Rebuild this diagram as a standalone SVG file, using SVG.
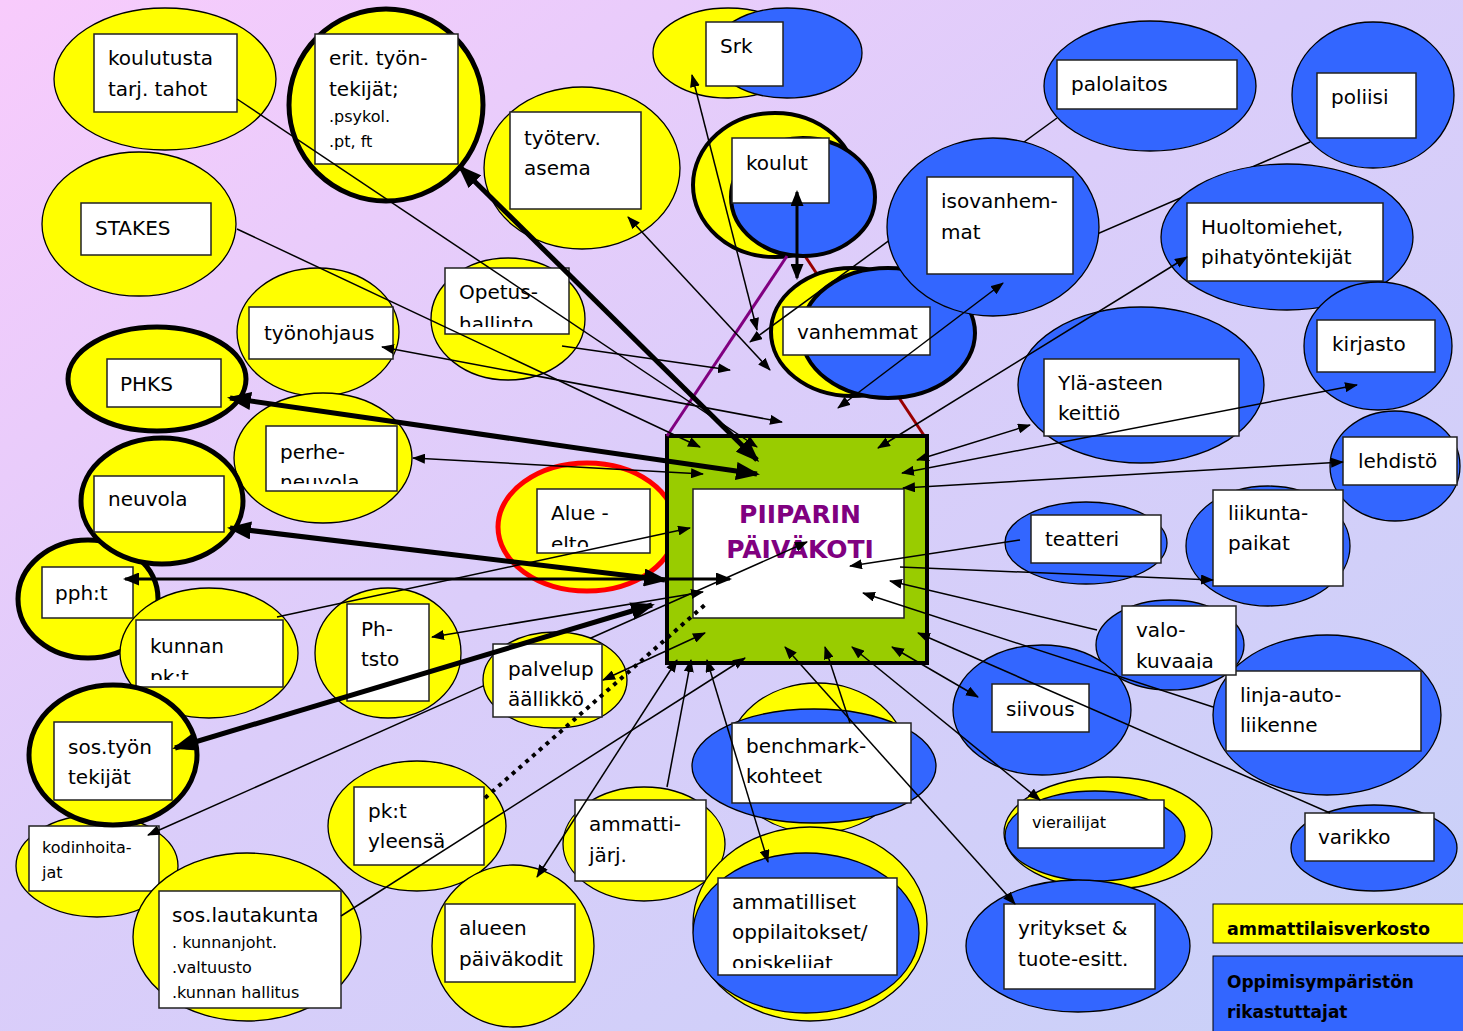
<svg xmlns="http://www.w3.org/2000/svg" width="1463" height="1031" viewBox="0 0 1463 1031">
<style>
.y{fill:#ffff00;stroke:#000;stroke-width:1.3}
.b{fill:#3366ff;stroke:#000;stroke-width:1.3}
.tk{stroke-width:5}
.m4{stroke-width:4}
.bx{fill:#fff;stroke:#222;stroke-width:1.5}
.t{font-family:"DejaVu Sans",Verdana,sans-serif;font-size:20px;fill:#000}
.s{font-size:16px}
.ln{stroke:#000;stroke-width:1.5;fill:none}
.th{stroke-width:5}
.md{stroke-width:3}
.lg{font-family:"DejaVu Sans",Verdana,sans-serif;font-weight:bold;fill:#000}
</style>
<defs>
<linearGradient id="bg" x1="0" y1="0" x2="1" y2="1">
<stop offset="0" stop-color="#f8cbfc"/>
<stop offset="0.45" stop-color="#dbcdfa"/>
<stop offset="1" stop-color="#c8d1f8"/>
</linearGradient>
<marker id="ah" markerUnits="userSpaceOnUse" viewBox="0 0 13 10" markerWidth="13" markerHeight="10" refX="12" refY="5" orient="auto-start-reverse"><path d="M0,0L13,5L0,10z" fill="#000"/></marker>
<marker id="am" markerUnits="userSpaceOnUse" viewBox="0 0 16 13" markerWidth="16" markerHeight="13" refX="14" refY="6.5" orient="auto-start-reverse"><path d="M0,0L16,6.5L0,13z" fill="#000"/></marker>
<marker id="at" markerUnits="userSpaceOnUse" viewBox="0 0 24 18" markerWidth="24" markerHeight="18" refX="21" refY="9" orient="auto-start-reverse"><path d="M0,0L24,9L0,18z" fill="#000"/></marker>
<clipPath id="cOp"><rect x="445" y="268" width="124" height="59"/></clipPath>
<clipPath id="cPe"><rect x="266" y="426" width="131" height="58"/></clipPath>
<clipPath id="cKu"><rect x="136" y="620" width="147" height="60"/></clipPath>
<clipPath id="cAl"><rect x="537" y="489" width="113" height="58"/></clipPath>
<clipPath id="cVa"><rect x="1122" y="606" width="114" height="63"/></clipPath>
<clipPath id="cAm"><rect x="718" y="878" width="179" height="90"/></clipPath>
</defs>
<rect width="1463" height="1031" fill="url(#bg)"/>

<g id="connectors-back">
<line class="ln" x1="1310" y1="142" x2="787" y2="368" marker-end="url(#ah)"/>
<line x1="805" y1="256" x2="927" y2="440" stroke="#990000" stroke-width="3"/>
</g>

<g id="n-koulutusta"><ellipse class="y" cx="165" cy="79" rx="111" ry="71"/><rect class="bx" x="94" y="34" width="143" height="78"/><text class="t" x="108" y="65">koulutusta</text><text class="t" x="108" y="96">tarj. tahot</text></g>
<g id="n-erit"><ellipse class="y tk" cx="386" cy="105" rx="97" ry="96"/><rect class="bx" x="315" y="34" width="143" height="130"/><text class="t" x="329" y="65">erit. työn-</text><text class="t" x="329" y="96">tekijät;</text><text class="t s" x="329" y="122">.psykol.</text><text class="t s" x="329" y="147">.pt, ft</text></g>
<g id="n-stakes"><ellipse class="y" cx="139" cy="224" rx="97" ry="72"/><rect class="bx" x="81" y="203" width="130" height="52"/><text class="t" x="95" y="235">STAKES</text></g>
<g id="n-tyoterv"><ellipse class="y" cx="582" cy="168" rx="98" ry="81"/><rect class="bx" x="510" y="112" width="131" height="97"/><text class="t" x="524" y="145">työterv.</text><text class="t" x="524" y="175">asema</text></g>
<g id="n-srk"><ellipse class="y" cx="728" cy="53" rx="75" ry="45"/><ellipse class="b" cx="787" cy="53" rx="75" ry="45"/><rect class="bx" x="706" y="22" width="77" height="64"/><text class="t" x="720" y="53">Srk</text></g>
<g id="n-koulut"><ellipse class="y m4" cx="775" cy="185" rx="82" ry="72"/><ellipse class="b m4" cx="803" cy="197" rx="72" ry="59"/><rect class="bx" x="732" y="138" width="97" height="65"/><text class="t" x="746" y="170">koulut</text></g>
<g id="n-opetus"><ellipse class="y" cx="508" cy="319" rx="77" ry="61"/><rect class="bx" x="445" y="268" width="124" height="66"/><g clip-path="url(#cOp)"><text class="t" x="459" y="299">Opetus-</text><text class="t" x="459" y="331">hallinto</text></g></g>
<g id="n-tyonohjaus"><ellipse class="y" cx="318" cy="332" rx="81" ry="64"/><rect class="bx" x="249" y="307" width="144" height="52"/><text class="t" x="264" y="340">työnohjaus</text></g>
<g id="n-perhe"><ellipse class="y" cx="323" cy="458" rx="89" ry="65"/><rect class="bx" x="266" y="426" width="131" height="65"/><g clip-path="url(#cPe)"><text class="t" x="280" y="459">perhe-</text><text class="t" x="280" y="489">neuvola</text></g></g>
<g id="n-phks"><ellipse class="y tk" cx="157" cy="379" rx="89" ry="52"/><rect class="bx" x="107" y="359" width="114" height="48"/><text class="t" x="120" y="391">PHKS</text></g>
<g id="n-pph"><ellipse class="y tk" cx="88" cy="599" rx="70" ry="59"/><rect class="bx" x="42" y="567" width="91" height="51"/><text class="t" x="55" y="600">pph:t</text></g>
<g id="n-neuvola"><ellipse class="y tk" cx="162" cy="501" rx="81" ry="63"/><rect class="bx" x="94" y="476" width="130" height="56"/><text class="t" x="108" y="506">neuvola</text></g>
<g id="n-kunnan"><ellipse class="y" cx="209" cy="653" rx="89" ry="65"/><rect class="bx" x="136" y="620" width="147" height="67"/><g clip-path="url(#cKu)"><text class="t" x="150" y="653">kunnan</text><text class="t" x="150" y="684">pk:t</text></g></g>
<g id="n-phtsto"><ellipse class="y" cx="388" cy="653" rx="73" ry="65"/><rect class="bx" x="347" y="604" width="82" height="97"/><text class="t" x="361" y="636">Ph-</text><text class="t" x="361" y="666">tsto</text></g>
<g id="n-alue"><ellipse cx="587" cy="527" rx="89" ry="64" fill="#ffff00" stroke="#ff0000" stroke-width="5"/><rect class="bx" x="537" y="489" width="113" height="64"/><g clip-path="url(#cAl)"><text class="t" x="551" y="520">Alue -</text><text class="t" x="551" y="551">elto</text></g></g>
<g id="n-kodinhoit"><ellipse class="y" cx="97" cy="866" rx="81" ry="51"/><rect class="bx" x="29" y="826" width="130" height="65"/><text class="t s" x="42" y="853">kodinhoita-</text><text class="t s" x="42" y="878">jat</text></g>
<g id="n-sostyon"><ellipse class="y tk" cx="113" cy="755" rx="84" ry="70"/><rect class="bx" x="54" y="722" width="118" height="78"/><text class="t" x="68" y="754">sos.työn</text><text class="t" x="68" y="784">tekijät</text></g>
<g id="n-soslauta"><ellipse class="y" cx="247" cy="937" rx="114" ry="84"/><rect class="bx" x="159" y="891" width="182" height="117"/><text class="t" x="172" y="922">sos.lautakunta</text><text class="t s" x="172" y="948">. kunnanjoht.</text><text class="t s" x="172" y="973">.valtuusto</text><text class="t s" x="172" y="998">.kunnan hallitus</text></g>
<g id="n-pktyleensa"><ellipse class="y" cx="417" cy="826" rx="89" ry="65"/><rect class="bx" x="354" y="787" width="130" height="78"/><text class="t" x="368" y="818">pk:t</text><text class="t" x="368" y="848">yleensä</text></g>
<g id="n-alueen"><ellipse class="y" cx="513" cy="946" rx="81" ry="81"/><rect class="bx" x="445" y="904" width="130" height="78"/><text class="t" x="459" y="935">alueen</text><text class="t" x="459" y="966">päiväkodit</text></g>
<g id="n-ammatti"><ellipse class="y" cx="644" cy="844" rx="81" ry="57"/><rect class="bx" x="575" y="800" width="131" height="81"/><text class="t" x="589" y="831">ammatti-</text><text class="t" x="589" y="862">järj.</text></g>
<g id="n-benchmark"><ellipse class="y" cx="817" cy="758" rx="90" ry="75"/><ellipse class="b" cx="814" cy="766" rx="122" ry="57"/><rect class="bx" x="732" y="723" width="179" height="80"/><text class="t" x="746" y="753">benchmark-</text><text class="t" x="746" y="783">kohteet</text></g>
<g id="n-ammatilliset"><ellipse class="y" cx="810" cy="924" rx="117" ry="97"/><ellipse class="b" cx="806" cy="933" rx="113" ry="80"/><rect class="bx" x="718" y="878" width="179" height="97"/><g clip-path="url(#cAm)"><text class="t" x="732" y="909">ammatilliset</text><text class="t" x="732" y="939">oppilaitokset/</text><text class="t" x="732" y="970">opiskelijat</text></g></g>
<g id="n-vanhemmat"><ellipse class="y m4" cx="852" cy="332" rx="81" ry="64"/><ellipse class="b m4" cx="888" cy="333" rx="87" ry="65"/><rect class="bx" x="783" y="307" width="147" height="48"/><text class="t" x="797" y="339">vanhemmat</text></g>
<g id="n-palolaitos"><ellipse class="b" cx="1150" cy="86" rx="106" ry="65"/><rect class="bx" x="1057" y="60" width="180" height="49"/><text class="t" x="1071" y="91">palolaitos</text></g>
<g id="n-poliisi"><ellipse class="b" cx="1373" cy="95" rx="81" ry="73"/><rect class="bx" x="1317" y="73" width="99" height="65"/><text class="t" x="1331" y="104">poliisi</text></g>
<g id="n-huolto"><ellipse class="b" cx="1287" cy="237" rx="126" ry="73"/><rect class="bx" x="1187" y="203" width="196" height="78"/><text class="t" x="1201" y="234">Huoltomiehet,</text><text class="t" x="1201" y="264">pihatyöntekijät</text></g>
<g id="n-kirjasto"><ellipse class="b" cx="1378" cy="346" rx="74" ry="64"/><rect class="bx" x="1317" y="320" width="118" height="52"/><text class="t" x="1332" y="351">kirjasto</text></g>
<g id="n-ylaaste"><ellipse class="b" cx="1141" cy="385" rx="123" ry="78"/><rect class="bx" x="1044" y="359" width="195" height="77"/><text class="t" x="1058" y="390">Ylä-asteen</text><text class="t" x="1058" y="420">keittiö</text></g>
<g id="n-lehdisto"><ellipse class="b" cx="1395" cy="466" rx="65" ry="55"/><rect class="bx" x="1343" y="437" width="114" height="48"/><text class="t" x="1358" y="468">lehdistö</text></g>
<g id="n-teatteri"><ellipse class="b" cx="1086" cy="543" rx="81" ry="41"/><rect class="bx" x="1031" y="515" width="130" height="48"/><text class="t" x="1045" y="546">teatteri</text></g>
<g id="n-liikunta"><ellipse class="b" cx="1268" cy="546" rx="82" ry="60"/><rect class="bx" x="1213" y="490" width="130" height="96"/><text class="t" x="1228" y="520">liikunta-</text><text class="t" x="1228" y="550">paikat</text></g>
<g id="n-linja"><ellipse class="b" cx="1327" cy="715" rx="114" ry="80"/><rect class="bx" x="1226" y="671" width="195" height="80"/><text class="t" x="1240" y="702">linja-auto-</text><text class="t" x="1240" y="732">liikenne</text></g>
<g id="n-valo"><ellipse class="b" cx="1170" cy="645" rx="74" ry="45"/><rect class="bx" x="1122" y="606" width="114" height="69"/><g clip-path="url(#cVa)"><text class="t" x="1136" y="637">valo-</text><text class="t" x="1136" y="668">kuvaaja</text></g></g>
<g id="n-siivous"><ellipse class="b" cx="1042" cy="710" rx="89" ry="65" stroke-width="3"/><rect class="bx" x="992" y="684" width="97" height="48"/><text class="t" x="1006" y="716">siivous</text></g>
<g id="n-vierailijat"><ellipse class="y" cx="1108" cy="833" rx="104" ry="56"/><ellipse class="b" cx="1095" cy="836" rx="90" ry="45"/><rect class="bx" x="1018" y="800" width="146" height="48"/><text class="t s" x="1032" y="828">vierailijat</text></g>
<g id="n-varikko"><ellipse class="b" cx="1374" cy="848" rx="83" ry="43"/><rect class="bx" x="1305" y="813" width="129" height="48"/><text class="t" x="1318" y="844">varikko</text></g>
<g id="n-yritykset"><ellipse class="b" cx="1078" cy="946" rx="112" ry="66"/><rect class="bx" x="1004" y="904" width="151" height="85"/><text class="t" x="1018" y="935">yritykset &amp;</text><text class="t" x="1018" y="966">tuote-esitt.</text></g>
<g id="n-center"><rect x="667" y="436" width="260" height="227" fill="#99cc00" stroke="#000" stroke-width="4"/><rect class="bx" x="693" y="489" width="211" height="129"/><text x="800" y="523" text-anchor="middle" font-family="DejaVu Sans,Verdana,sans-serif" font-weight="bold" font-size="25" fill="#800080">PIIPARIN</text><text x="800" y="558" text-anchor="middle" font-family="DejaVu Sans,Verdana,sans-serif" font-weight="bold" font-size="25" fill="#800080">PÄIVÄKOTI</text></g>

<g id="connectors-mid">
<line class="ln" x1="1057" y1="118" x2="750" y2="342" marker-end="url(#ah)"/>
<line class="ln" x1="148" y1="835" x2="807" y2="542" marker-start="url(#ah)" marker-end="url(#ah)"/>
</g>

<g id="n-isovanhemmat"><ellipse class="b" cx="993" cy="227" rx="106" ry="89"/><rect class="bx" x="927" y="177" width="146" height="97"/><text class="t" x="941" y="208">isovanhem-</text><text class="t" x="941" y="239">mat</text></g>
<g id="n-palvelup"><ellipse class="y" cx="555" cy="680" rx="72" ry="48"/><rect class="bx" x="493" y="644" width="109" height="73"/><text class="t" x="508" y="676">palvelup</text><text class="t" x="508" y="706">äällikkö</text></g>

<g id="connectors">
<line x1="667" y1="436" x2="787" y2="256" stroke="#800080" stroke-width="3"/>
<line class="ln" x1="237" y1="99" x2="757" y2="447" marker-end="url(#ah)"/>
<line class="ln" x1="237" y1="229" x2="700" y2="447" marker-end="url(#ah)"/>
<line class="ln" x1="562" y1="346" x2="730" y2="370" marker-end="url(#ah)"/>
<line class="ln" x1="382" y1="347" x2="782" y2="422" marker-start="url(#ah)" marker-end="url(#ah)"/>
<line class="ln" x1="628" y1="217" x2="770" y2="370" marker-start="url(#ah)" marker-end="url(#ah)"/>
<line class="ln" x1="692" y1="75" x2="757" y2="330" marker-start="url(#ah)" marker-end="url(#ah)"/>
<line class="ln md" x1="797" y1="192" x2="797" y2="278" marker-start="url(#am)" marker-end="url(#am)"/>
<line class="ln" x1="838" y1="408" x2="1003" y2="283" marker-start="url(#ah)" marker-end="url(#ah)"/>
<line class="ln" x1="878" y1="448" x2="1187" y2="257" marker-start="url(#ah)" marker-end="url(#ah)"/>
<line class="ln" x1="917" y1="460" x2="1030" y2="425" marker-start="url(#ah)" marker-end="url(#ah)"/>
<line class="ln" x1="902" y1="473" x2="1357" y2="385" marker-start="url(#ah)" marker-end="url(#ah)"/>
<line class="ln" x1="903" y1="488" x2="1343" y2="462" marker-start="url(#ah)" marker-end="url(#ah)"/>
<line class="ln" x1="1020" y1="540" x2="850" y2="566" marker-end="url(#ah)"/>
<line class="ln" x1="900" y1="567" x2="1213" y2="580" marker-end="url(#ah)"/>
<line class="ln" x1="1097" y1="630" x2="890" y2="581" marker-end="url(#ah)"/>
<line class="ln" x1="1213" y1="707" x2="863" y2="593" marker-end="url(#ah)"/>
<line class="ln" x1="1330" y1="813" x2="918" y2="633" marker-end="url(#ah)"/>
<line class="ln" x1="892" y1="647" x2="978" y2="697" marker-start="url(#ah)" marker-end="url(#ah)"/>
<line class="ln" x1="852" y1="647" x2="1040" y2="800" marker-start="url(#ah)" marker-end="url(#ah)"/>
<line class="ln" x1="785" y1="647" x2="1015" y2="904" marker-start="url(#ah)" marker-end="url(#ah)"/>
<line class="ln" x1="850" y1="723" x2="825" y2="647" marker-end="url(#ah)"/>
<line class="ln" x1="707" y1="660" x2="768" y2="862" marker-start="url(#ah)" marker-end="url(#ah)"/>
<line class="ln" x1="667" y1="787" x2="691" y2="660" marker-end="url(#ah)"/>
<line class="ln" x1="677" y1="660" x2="537" y2="877" marker-start="url(#ah)" marker-end="url(#ah)"/>
<line class="ln" x1="341" y1="916" x2="745" y2="658" marker-end="url(#ah)"/>
<line x1="485" y1="798" x2="707" y2="603" stroke="#000" stroke-width="4" stroke-dasharray="4 5"/>
<line class="ln" x1="603" y1="680" x2="705" y2="633" marker-start="url(#ah)" marker-end="url(#ah)"/>
<line class="ln th" x1="175" y1="748" x2="652" y2="605" marker-start="url(#at)" marker-end="url(#at)"/>
<line class="ln" x1="432" y1="637" x2="703" y2="592" marker-start="url(#ah)" marker-end="url(#ah)"/>
<line class="ln" x1="277" y1="617" x2="690" y2="528" marker-end="url(#ah)"/>
<line class="ln md" x1="125" y1="579" x2="730" y2="579" marker-start="url(#am)" marker-end="url(#am)"/>
<line class="ln th" x1="230" y1="528" x2="665" y2="580" marker-start="url(#at)" marker-end="url(#at)"/>
<line class="ln" x1="413" y1="458" x2="703" y2="474" marker-start="url(#ah)" marker-end="url(#ah)"/>
<line class="ln th" x1="230" y1="398" x2="757" y2="474" marker-start="url(#at)" marker-end="url(#at)"/>
<line class="ln th" x1="460" y1="167" x2="757" y2="460" marker-start="url(#at)" marker-end="url(#at)"/>
</g>

<g id="legend">
<rect x="1213" y="904" width="260" height="39" fill="#ffff00" stroke="#000" stroke-width="1"/>
<text class="lg" x="1227" y="935" font-size="17.5">ammattilaisverkosto</text>
<rect x="1213" y="956" width="260" height="80" fill="#3366ff" stroke="#000" stroke-width="1"/>
<text class="lg" x="1227" y="988" font-size="17">Oppimisympäristön</text>
<text class="lg" x="1227" y="1018" font-size="17">rikastuttajat</text>
</g>
</svg>
